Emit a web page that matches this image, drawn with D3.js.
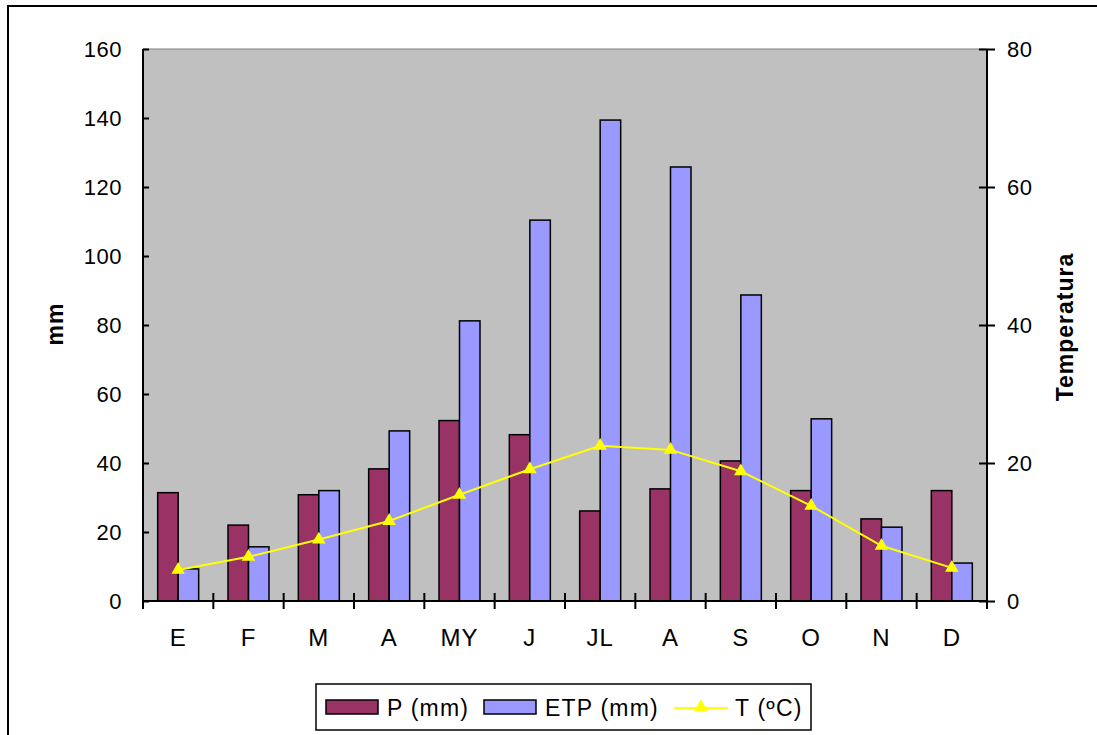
<!DOCTYPE html>
<html>
<head>
<meta charset="utf-8">
<script src="https://cdn.jsdelivr.net/npm/d3@7"></script>
<style>
  body { margin: 0; background: #fff; }
  text { font-family: "Liberation Sans", Arial, sans-serif; fill: #000; }
</style>
</head>
<body>
<svg id="chart" width="1097" height="735"></svg>
<script>
// monthly values
const months = ['E', 'F', 'M', 'A', 'MY', 'J', 'JL', 'A', 'S', 'O', 'N', 'D'];
const precip = [31.4, 22.0, 30.8, 38.3, 52.3, 48.2, 26.1, 32.5, 40.6, 32.0, 23.8, 32.0];
const etp = [9.3, 15.7, 32.0, 49.3, 81.2, 110.4, 139.4, 125.8, 88.7, 52.8, 21.4, 11.0];
const temp = [4.5, 6.4, 8.9, 11.6, 15.4, 19.1, 22.5, 21.9, 18.8, 13.8, 8.0, 4.8];
const mmTicks = [0, 20, 40, 60, 80, 100, 120, 140, 160];
const tempTicks = [0, 20, 40, 60, 80];

const svg = d3.select('#chart');
const plotL = 143, plotR = 987, plotT = 49, plotB = 601;

// outer chart border
svg.append('rect')
  .attr('x', 8).attr('y', 6).attr('width', 1100).attr('height', 740)
  .attr('fill', '#fff').attr('stroke', '#000').attr('stroke-width', 2);

const x = d3.scaleBand().domain(d3.range(months.length)).range([plotL, plotR]);
const xs = d3.scaleBand().domain(['p', 'etp']).range([0, 41]);
const y = d3.scaleLinear().domain([0, 160]).range([plotB, plotT]);
const y2 = d3.scaleLinear().domain([0, 80]).range([plotB, plotT]);

svg.append('rect')
  .attr('x', plotL).attr('y', plotT).attr('width', plotR - plotL).attr('height', plotB - plotT)
  .attr('fill', '#c0c0c0').attr('stroke', '#808080').attr('stroke-width', 1);

const g = svg.append('g');
const offset = (x.bandwidth() - 41) / 2;

g.selectAll('.p').data(precip).enter().append('rect')
  .attr('class', 'p')
  .attr('x', (d, i) => x(i) + offset + xs('p'))
  .attr('y', d => y(d))
  .attr('width', xs.bandwidth())
  .attr('height', d => plotB - y(d))
  .attr('fill', '#993366').attr('stroke', '#000').attr('stroke-width', 1.5);

g.selectAll('.etp').data(etp).enter().append('rect')
  .attr('class', 'etp')
  .attr('x', (d, i) => x(i) + offset + xs('etp'))
  .attr('y', d => y(d))
  .attr('width', xs.bandwidth())
  .attr('height', d => plotB - y(d))
  .attr('fill', '#9999ff').attr('stroke', '#000').attr('stroke-width', 1.5);

const line = d3.line()
  .x((d, i) => x(i) + x.bandwidth() / 2)
  .y(d => y2(d));

g.append('path').datum(temp)
  .attr('d', line)
  .attr('fill', 'none').attr('stroke', '#ffff00').attr('stroke-width', 2);

const tri = d3.symbol().type(d3.symbolTriangle).size(80);
g.selectAll('.tri').data(temp).enter().append('path')
  .attr('class', 'tri')
  .attr('transform', (d, i) => `translate(${x(i) + x.bandwidth() / 2},${y2(d)})`)
  .attr('d', tri)
  .attr('fill', '#ffff00');

// axes
const leftAxis = svg.append('g').attr('transform', `translate(${plotL},0)`)
  .call(d3.axisLeft(y).tickValues(mmTicks).tickSize(8).tickPadding(13));
leftAxis.selectAll('.tick line').attr('x2', 6);

const rightAxis = svg.append('g').attr('transform', `translate(${plotR},0)`)
  .call(d3.axisRight(y2).tickValues(tempTicks).tickSize(8).tickPadding(12));
rightAxis.selectAll('.tick line').attr('x1', -8);

const bottomAxis = svg.append('g').attr('transform', `translate(0,${plotB})`)
  .call(d3.axisBottom(x).tickFormat(i => months[i]).tickSize(0).tickPadding(28));
bottomAxis.selectAll('.tick line').remove();
bottomAxis.selectAll('.cat').data(d3.range(months.length + 1)).enter().append('line')
  .attr('x1', i => i < months.length ? x(i) : plotR)
  .attr('x2', i => i < months.length ? x(i) : plotR)
  .attr('y1', -8).attr('y2', 8)
  .attr('stroke', '#000').attr('stroke-width', 2);

[leftAxis, rightAxis, bottomAxis].forEach(a => {
  a.select('.domain').attr('stroke', '#000').attr('stroke-width', 2);
  a.selectAll('.tick line').attr('stroke', '#000').attr('stroke-width', 2);
  a.selectAll('text')
    .style('font-family', '"Liberation Sans", Arial, sans-serif').attr('fill', '#000');
});
leftAxis.selectAll('text').style('font-size', '22px').style('letter-spacing', '0.5px');
rightAxis.selectAll('text').style('font-size', '22px').style('letter-spacing', '0.5px');
bottomAxis.selectAll('text').style('font-size', '24px').style('letter-spacing', '1px');
leftAxis.select('.domain').attr('d', `M0,${plotB}V${plotT}`);
rightAxis.select('.domain').attr('d', `M0,${plotB}V${plotT}`);
bottomAxis.select('.domain').attr('d', `M${plotL},0H${plotR}`);

svg.append('text')
  .attr('transform', `translate(63,324) rotate(-90)`)
  .attr('text-anchor', 'middle')
  .style('font-size', '23px').style('font-weight', 'bold').style('letter-spacing', '1px')
  .text('mm');

svg.append('text')
  .attr('transform', `translate(1073,327) rotate(-90)`)
  .attr('text-anchor', 'middle')
  .style('font-size', '23px').style('font-weight', 'bold').style('letter-spacing', '1px')
  .text('Temperatura');

// legend
const legend = svg.append('g');
legend.append('rect')
  .attr('x', 316).attr('y', 684).attr('width', 495).attr('height', 46)
  .attr('fill', '#fff').attr('stroke', '#000').attr('stroke-width', 1.5);

const legendItems = [
  { label: 'P (mm)', color: '#993366', x: 326 },
  { label: 'ETP (mm)', color: '#9999ff', x: 484 }
];
legendItems.forEach(d => {
  legend.append('rect')
    .attr('x', d.x).attr('y', 700).attr('width', 52).attr('height', 14)
    .attr('fill', d.color).attr('stroke', '#000').attr('stroke-width', 1.5);
  legend.append('text')
    .attr('x', d.x + 61).attr('y', 716)
    .style('font-size', '23px').style('letter-spacing', '1.2px')
    .text(d.label);
});
legend.append('line')
  .attr('x1', 674).attr('x2', 728).attr('y1', 708).attr('y2', 708)
  .attr('stroke', '#ffff00').attr('stroke-width', 2);
legend.append('path')
  .attr('transform', 'translate(701,707)')
  .attr('d', tri)
  .attr('fill', '#ffff00');
legend.append('text')
  .attr('x', 735).attr('y', 716)
  .style('font-size', '23px').style('letter-spacing', '1.2px')
  .text('T (ºC)');
</script>
</body>
</html>
